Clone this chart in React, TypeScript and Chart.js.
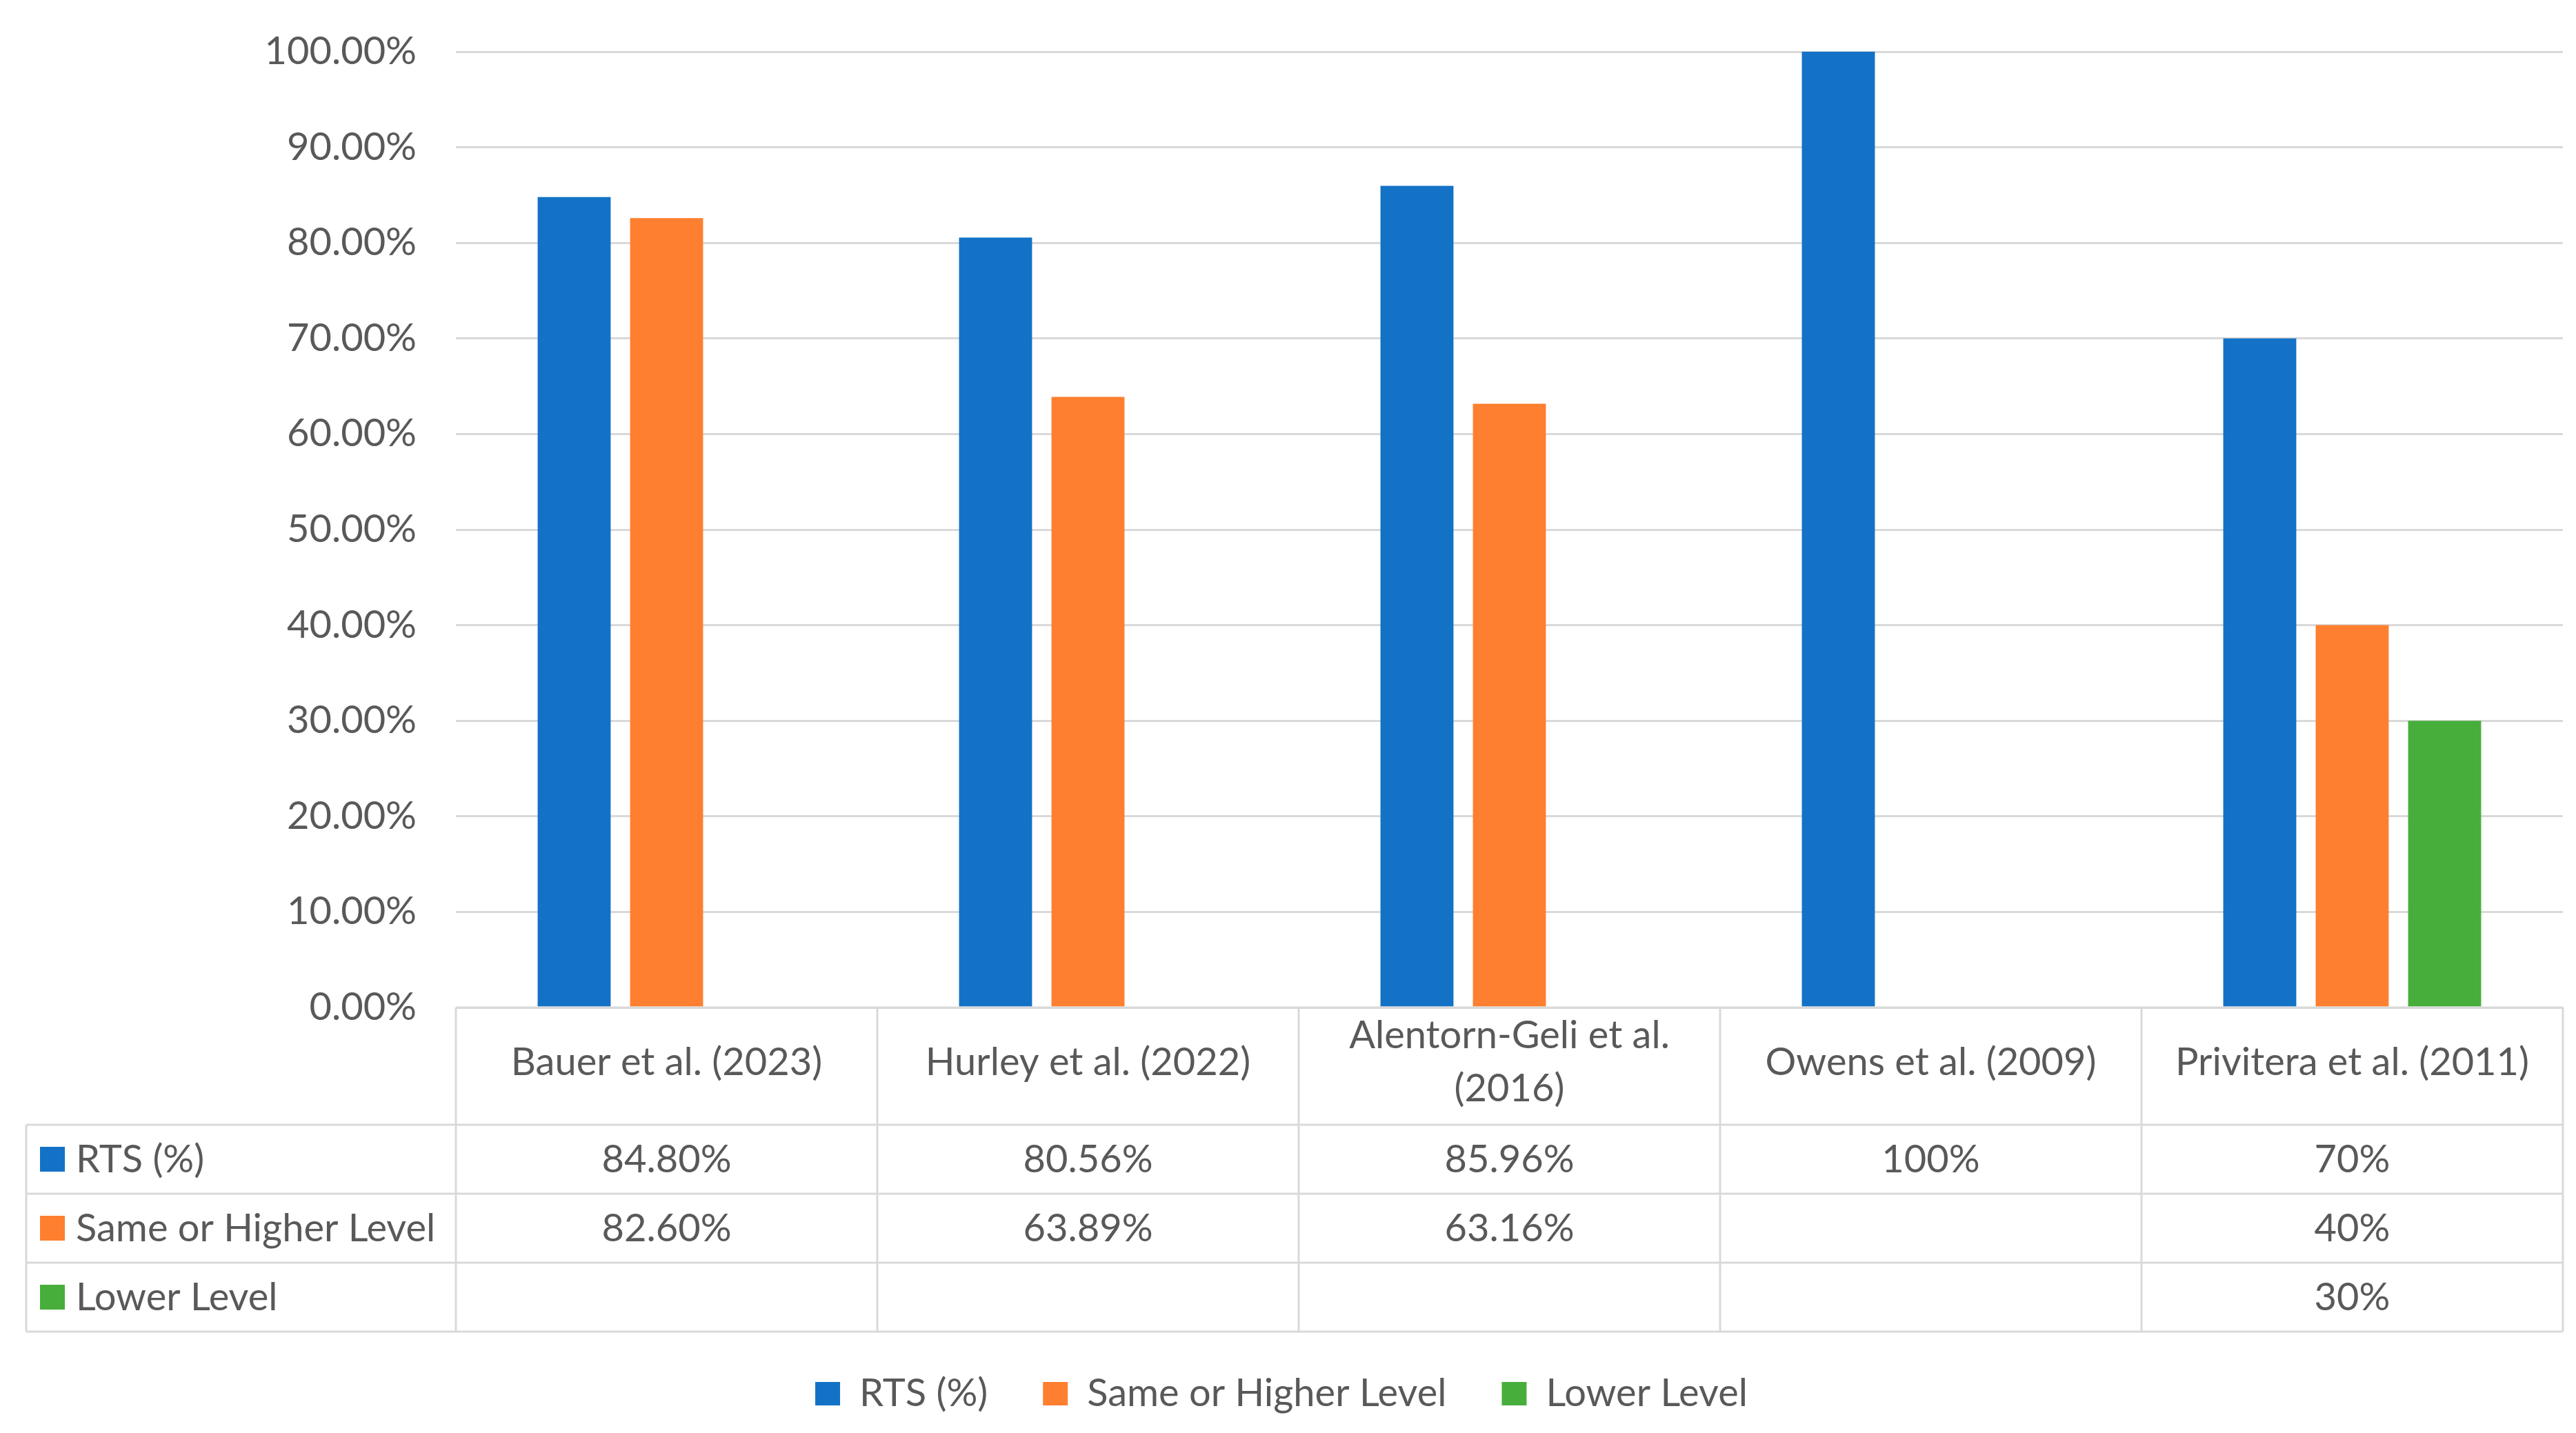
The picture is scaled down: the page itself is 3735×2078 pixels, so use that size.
import React, { useEffect, useRef } from "react";
import { Chart, registerables } from "chart.js";

Chart.register(...registerables);

const categories: string[][] = [
  ["Bauer et al. (2023)"],
  ["Hurley et al. (2022)"],
  ["Alentorn-Geli et al.", "(2016)"],
  ["Owens et al. (2009)"],
  ["Privitera et al. (2011)"],
];
const seriesNames = ["RTS (%)", "Same or Higher Level", "Lower Level"];
const rtsValues: (number | null)[] = [84.8, 80.56, 85.96, 100, 70];
const sameOrHigherValues: (number | null)[] = [82.6, 63.89, 63.16, null, 40];
const lowerValues: (number | null)[] = [null, null, null, null, 30];
const seriesColors = ["#1372c6", "#fe7f2f", "#47ae3c"];
const yMin = 0;
const yMax = 100;
const yStep = 10;

const W = 3735;
const H = 2078;
const FONT = "Lato, 'Open Sans', sans-serif";
const TEXT = "#595959";
const LINE = "#d9d9d9";

function fmtTable(v: number | null): string {
  if (v === null || v === undefined) return "";
  return Number.isInteger(v) ? `${v}%` : `${v.toFixed(2)}%`;
}

const tablePlugin = {
  id: "dataTable",
  afterDraw(chart: any) {
    const ctx = chart.ctx as CanvasRenderingContext2D;
    const xs = chart.scales.x;
    const { left, right, bottom } = chart.chartArea;
    const headerBottom = bottom + 170;
    const rowH = 100;
    const tableLeft = 38;
    const datasets = chart.data.datasets;
    const tableBottom = headerBottom + datasets.length * rowH;
    const n = chart.data.labels.length;

    ctx.save();
    ctx.strokeStyle = LINE;
    ctx.lineWidth = 3;
    const line = (x1: number, y1: number, x2: number, y2: number) => {
      ctx.beginPath();
      ctx.moveTo(x1, y1);
      ctx.lineTo(x2, y2);
      ctx.stroke();
    };
    line(left, bottom, right, bottom);
    for (let r = 0; r <= datasets.length; r++) {
      const y = headerBottom + r * rowH;
      line(tableLeft, y, right, y);
    }
    line(tableLeft, headerBottom, tableLeft, tableBottom);
    const bounds: number[] = [left];
    for (let i = 0; i < n - 1; i++) {
      bounds.push((xs.getPixelForValue(i) + xs.getPixelForValue(i + 1)) / 2);
    }
    bounds.push(right);
    bounds.forEach((x) => line(x, bottom, x, tableBottom));

    ctx.font = `56px ${FONT}`;
    ctx.textBaseline = "middle";
    datasets.forEach((ds: any, r: number) => {
      const y = headerBottom + (r + 0.5) * rowH;
      ctx.fillStyle = ds.backgroundColor;
      ctx.fillRect(58, y - 18, 36, 36);
      ctx.fillStyle = TEXT;
      ctx.textAlign = "left";
      ctx.fillText(ds.label, 110, y + 1);
      ctx.textAlign = "center";
      ds.data.forEach((v: number | null, i: number) => {
        const s = fmtTable(v);
        if (s) ctx.fillText(s, xs.getPixelForValue(i), y + 1);
      });
    });
    ctx.restore();
  },
};

export default function App() {
  const ref = useRef<HTMLCanvasElement | null>(null);

  useEffect(() => {
    let chart: Chart | null = null;
    let cancelled = false;
    const make = () => {
      if (cancelled || !ref.current) return;
      Chart.defaults.font.family = FONT;
      Chart.defaults.color = TEXT;
      chart = new Chart(ref.current, {
        type: "bar",
        data: {
          labels: categories,
          datasets: [
            { label: seriesNames[0], data: rtsValues, backgroundColor: seriesColors[0] },
            { label: seriesNames[1], data: sameOrHigherValues, backgroundColor: seriesColors[1] },
            { label: seriesNames[2], data: lowerValues, backgroundColor: seriesColors[2] },
          ],
        },
        options: {
          responsive: false,
          animation: false,
          devicePixelRatio: 1,
          layout: { padding: { left: 0, top: 75, right: 19, bottom: 19 } },
          datasets: {
            bar: { categoryPercentage: 0.658, barPercentage: 0.79, borderWidth: 0 },
          },
          plugins: {
            legend: {
              position: "bottom",
              labels: {
                font: { size: 56, family: FONT },
                color: TEXT,
                boxWidth: 36,
                boxHeight: 34,
                padding: 80,
              },
            },
            tooltip: { enabled: false },
          },
          scales: {
            x: {
              grid: { display: false, drawTicks: false },
              border: { display: false },
              ticks: {
                font: { size: 56, family: FONT, lineHeight: 1.375 },
                color: TEXT,
                padding: 41,
                autoSkip: false,
                maxRotation: 0,
                minRotation: 0,
                crossAlign: "center",
              },
              afterFit: (s: any) => {
                s.height = 452;
              },
            },
            y: {
              min: yMin,
              max: yMax,
              grid: { color: LINE, lineWidth: 3, drawTicks: false },
              border: { display: false },
              ticks: {
                stepSize: yStep,
                font: { size: 56, family: FONT, lineHeight: 0.5 },
                color: TEXT,
                padding: 57,
                callback: (v: any) => `${Number(v).toFixed(2)}%`,
              },
              afterFit: (s: any) => {
                s.width = 661;
              },
            },
          },
        },
        plugins: [tablePlugin],
      } as any);
    };
    const fonts: any = (document as any).fonts;
    if (fonts && fonts.load) {
      fonts.load(`56px Lato`).then(make, make);
    } else {
      make();
    }
    return () => {
      cancelled = true;
      if (chart) chart.destroy();
    };
  }, []);

  return (
    <div style={{ position: "fixed", left: 0, top: 0, width: W, height: H, background: "#ffffff" }}>
      <canvas ref={ref} width={W} height={H} style={{ display: "block", width: W, height: H }} />
    </div>
  );
}
